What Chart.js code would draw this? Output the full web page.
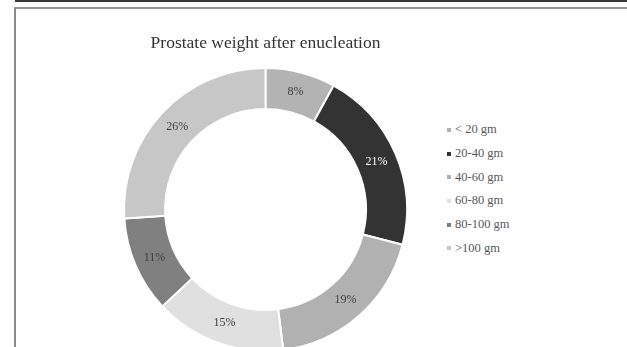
<!DOCTYPE html>
<html>
<head>
<meta charset="utf-8">
<script src="https://cdn.jsdelivr.net/npm/chart.js@4.4.1/dist/chart.umd.min.js"></script>
<style>
  html, body { margin: 0; padding: 0; background: #fff; overflow: hidden; }
  body { width: 627px; height: 347px; position: relative; }
  .topline { position: absolute; left: 15px; top: 0; width: 612px; height: 2px; background: #3a3a3a; }
  .frame { position: absolute; left: 14px; top: 7px; width: 620px; height: 400px;
           border-top: 2px solid #9a9a9a; border-left: 2px solid #8a8a8a; }
  .chart-box { position: absolute; left: 100px; top: 9px; width: 331px; height: 343px; }
  #legend { position: absolute; left: 447px; top: 118px; margin: 0; padding: 0; list-style: none;
            font-family: "Liberation Serif", "Times New Roman", serif; font-size: 12.5px; color: #595959; }
  #legend li { height: 23.7px; display: flex; align-items: center; white-space: nowrap; }
  #legend .box { width: 4px; height: 4px; margin-right: 4px; }
</style>
</head>
<body>
<div class="topline"></div>
<div class="frame"></div>
<div class="chart-box"><canvas id="weightChart"></canvas></div>
<ul id="legend"></ul>
<script>
// weight groups and share of patients (%)
const categories = ['< 20 gm', '20-40 gm', '40-60 gm', '60-80 gm', '80-100 gm', '>100 gm'];
const percents = [8, 21, 19, 15, 11, 26];
const sliceColors = ['#b3b3b3', '#333333', '#b1b1b1', '#e0e0e0', '#808080', '#c7c7c7'];

// percentage text in the middle of each ring segment
const sliceLabels = {
    id: 'sliceLabels',
    afterDatasetsDraw(chart) {
        const ctx = chart.ctx;
        const meta = chart.getDatasetMeta(0);
        ctx.save();
        ctx.font = '12px "Liberation Serif", "Times New Roman", serif';
        ctx.textAlign = 'center';
        ctx.textBaseline = 'middle';
        meta.data.forEach((arc, i) => {
            const p = arc.tooltipPosition();
            ctx.fillStyle = i === 1 ? '#ffffff' : '#404040';
            ctx.fillText(percents[i] + '%', p.x, p.y);
        });
        ctx.restore();
    }
};

const chart = new Chart(document.getElementById('weightChart'), {
    type: 'doughnut',
    data: {
        labels: categories,
        datasets: [{
            data: percents,
            backgroundColor: sliceColors,
            borderColor: '#ffffff',
            borderWidth: 2
        }]
    },
    options: {
        responsive: true,
        maintainAspectRatio: false,
        animation: false,
        cutout: '71%',
        layout: { padding: 0 },
        plugins: {
            legend: { display: false },
            tooltip: { enabled: false },
            title: {
                display: true,
                text: 'Prostate weight after enucleation',
                color: '#333333',
                font: { family: '"Liberation Serif", "Times New Roman", serif', size: 17.5, weight: 'normal' },
                padding: { top: 23.5, bottom: 13.5 }
            }
        }
    },
    plugins: [sliceLabels]
});

// legend list built from the chart's own label items
const legendList = document.getElementById('legend');
chart.options.plugins.legend.labels.generateLabels(chart).forEach(item => {
    const li = document.createElement('li');
    li.innerHTML = `<span class="box" style="background:${item.fillStyle}"></span>${item.text}`;
    legendList.appendChild(li);
});
</script>
</body>
</html>
